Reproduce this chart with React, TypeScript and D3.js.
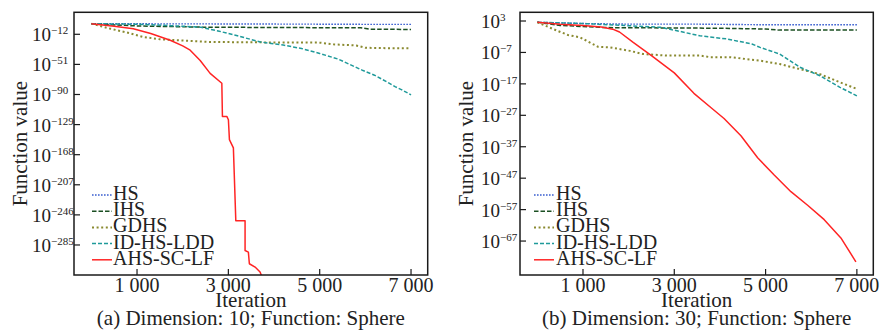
import React from 'react';
import * as d3 from 'd3';

// ---------- data (values stored as log10 of the function value) ----------
const seriesNames = ['HS', 'IHS', 'GDHS', 'ID-HS-LDD', 'AHS-SC-LF'];
const xTicks = [1000, 3000, 5000, 7000];
const xTickLabels = ['1 000', '3 000', '5 000', '7 000'];
const yTicksA = [-12, -51, -90, -129, -168, -207, -246, -285];
const yTicksB = [3, -7, -17, -27, -37, -47, -57, -67];
const captions = ['(a) Dimension: 10; Function: Sphere', '(b) Dimension: 30; Function: Sphere'];

// panel (a): [iteration, log10(value)]
const aHS: [number, number][] = [[0, 1.8], [1000, 1.6], [3000, 1.4], [5000, 1.1], [6000, 0.9], [7000, 0.9]];
const aIHS: [number, number][] = [[0, 1.8], [300, 0.8], [1000, -1.2], [2500, -2.8], [4000, -3.2], [5000, -3.4], [5900, -3.6], [6100, -5.4], [7000, -5.7]];
const aGDHS: [number, number][] = [[0, 1.8], [415, -4.7], [800, -10], [1137, -15.5], [1500, -18.5], [1880, -19.7], [2600, -21.9], [3500, -22.4], [5000, -22.8], [5300, -25], [5800, -26.5], [6000, -29.5], [6500, -30], [7000, -30]];
const aIDHS: [number, number][] = [[0, 1.8], [1000, 1.0], [2000, -1.5], [2400, -3], [2800, -8], [3200, -14], [3700, -21.9], [4200, -26], [4600, -30.4], [5000, -36.8], [5400, -44], [5950, -59], [6200, -65], [6470, -73.6], [6650, -79.8], [6800, -84], [7000, -90.5]];
const aAHS: [number, number][] = [[0, 1.8], [500, -1.5], [918, -4.7], [1300, -11], [1727, -19.7], [2000, -27], [2164, -32.6], [2383, -46], [2601, -62.6], [2857, -75.4], [2870, -118.4], [2966, -118.4], [3001, -122.7], [3023, -148.4], [3110, -159.1], [3163, -253.6], [3366, -253.6], [3366, -292.2], [3438, -294.2], [3460, -309.3], [3585, -313.6], [3694, -320], [3760, -330]];

// panel (b)
const bHS: [number, number][] = [[0, 2.6], [1000, 2.2], [2000, 2.0], [3500, 2.0], [5000, 1.8], [7000, 1.8]];
const bIHS: [number, number][] = [[0, 2.6], [500, 1.6], [1500, 0.9], [4000, 0.7], [5000, 0.45], [5300, 0.1], [7000, 0.1]];
const bGDHS: [number, number][] = [[0, 2.6], [344, 0.45], [672, -1.45], [935, -2.2], [1329, -5.2], [1592, -5.4], [2030, -6.5], [2314, -7.5], [2840, -8], [3563, -8], [3782, -8.5], [4220, -8.5], [4876, -9.6], [5314, -10.7], [5752, -12.3], [6190, -13.9], [6628, -16.5], [7000, -18.6]];
const bIDHS: [number, number][] = [[0, 2.6], [1000, 2.2], [2000, 1.5], [2700, 1.0], [3060, -0.1], [3560, -1.7], [4150, -2.7], [4700, -4.3], [4880, -5.4], [5310, -7.5], [5750, -11.7], [6190, -14.4], [6630, -18.1], [7000, -20.8]];
const bAHS: [number, number][] = [[0, 2.6], [500, 2.0], [1000, 1.6], [1400, 1.1], [1650, 0.4], [1800, -0.5], [2100, -3.8], [2500, -8], [3000, -13.5], [3430, -20], [3800, -24.5], [4090, -28], [4460, -33.5], [4826, -40.5], [5189, -46], [5555, -51.3], [5921, -55.6], [6285, -60.2], [6650, -66], [6979, -73.6]];

// ---------- styles ----------
const colors = ['#3a5fd0', '#1b4f22', '#8a8a30', '#1f9a9a', '#ff2424'];
const dashes = ['1.6,1.4', '4.5,2', '2,2.6', '4,2', null];
const widths = [1.4, 1.5, 2, 1.5, 1.5];
const FONT = '"Liberation Serif", "Times New Roman", serif';

type PanelCfg = {
  left: number; right: number; top: number; bottom: number;
  xDomain: [number, number]; yDomain: [number, number];
  yTicks: number[]; series: [number, number][][]; caption: string;
  labelX: number; titleX: number; legHandleX: number; legTextX: number;
};

const panels: PanelCfg[] = [
  {
    left: 74, right: 427.7, top: 12.3, bottom: 275,
    xDomain: [-380, 7365], yDomain: [-323.9, 16.5],
    yTicks: yTicksA, series: [aHS, aIHS, aGDHS, aIDHS, aAHS], caption: captions[0],
    labelX: 32, titleX: 27, legHandleX: 92, legTextX: 113,
  },
  {
    left: 520, right: 873.3, top: 12.3, bottom: 275,
    xDomain: [-380, 7360], yDomain: [-77.8, 5.77],
    yTicks: yTicksB, series: [bHS, bIHS, bGDHS, bIDHS, bAHS], caption: captions[1],
    labelX: 481, titleX: 473, legHandleX: 534, legTextX: 556,
  },
];

function Panel({ cfg, idx }: { cfg: PanelCfg; idx: number }) {
  const x = d3.scaleLinear().domain(cfg.xDomain).range([cfg.left, cfg.right]);
  const y = d3.scaleLinear().domain(cfg.yDomain).range([cfg.bottom, cfg.top]);
  const line = d3.line<[number, number]>().x(d => x(d[0])).y(d => y(d[1]));
  const clipId = `clip${idx}`;
  const cx = (cfg.left + cfg.right) / 2;
  const cy = (cfg.top + cfg.bottom) / 2;
  const legY0 = 195;
  const legStep = 16.2;
  return (
    <g>
      <defs>
        <clipPath id={clipId}>
          <rect x={cfg.left} y={cfg.top} width={cfg.right - cfg.left} height={cfg.bottom - cfg.top} />
        </clipPath>
      </defs>
      <g clipPath={`url(#${clipId})`}>
        {cfg.series.map((s, i) => (
          <path key={i} d={line(s) || ''} fill="none" stroke={colors[i]} strokeWidth={widths[i]}
            strokeDasharray={dashes[i] || undefined} strokeLinejoin="round" />
        ))}
      </g>
      <rect x={cfg.left} y={cfg.top} width={cfg.right - cfg.left} height={cfg.bottom - cfg.top}
        fill="none" stroke="#1a1a1a" strokeWidth={1.5} />
      {xTicks.map((t, i) => (
        <g key={t}>
          <line x1={x(t)} x2={x(t)} y1={cfg.bottom} y2={cfg.bottom - 6} stroke="#1a1a1a" strokeWidth={1.2} />
          <text x={x(t)} y={cfg.bottom + 17} textAnchor="middle" fontSize={20} fontFamily={FONT} fill="#222">{xTickLabels[i]}</text>
        </g>
      ))}
      {cfg.yTicks.map(t => (
        <g key={t}>
          <line x1={cfg.left} x2={cfg.left + 6} y1={y(t)} y2={y(t)} stroke="#1a1a1a" strokeWidth={1.2} />
          <text x={cfg.labelX} y={y(t) + 7} fontFamily={FONT} fill="#222">
            <tspan fontSize={19}>10</tspan>
            <tspan fontSize={11} dy={-7}>{t < 0 ? `\u2212${-t}` : `${t}`}</tspan>
          </text>
        </g>
      ))}
      <text x={cx} y={cfg.bottom + 32} textAnchor="middle" fontSize={21} fontFamily={FONT} fill="#222">Iteration</text>
      <text x={cx} y={cfg.bottom + 50} textAnchor="middle" fontSize={21} fontFamily={FONT} fill="#222">{cfg.caption}</text>
      <text transform={`translate(${cfg.titleX},${cy}) rotate(-90)`} textAnchor="middle" fontSize={21} fontFamily={FONT} fill="#222">Function value</text>
      {seriesNames.map((n, i) => (
        <g key={n}>
          <line x1={cfg.legHandleX} x2={cfg.legHandleX + 20} y1={legY0 + i * legStep} y2={legY0 + i * legStep}
            stroke={colors[i]} strokeWidth={widths[i]} strokeDasharray={dashes[i] || undefined} />
          <text x={cfg.legTextX} y={legY0 + i * legStep + 5} fontSize={20} fontFamily={FONT} fill="#222">{n}</text>
        </g>
      ))}
    </g>
  );
}

export default function App() {
  return (
    <svg width={882} height={331} style={{ position: 'absolute', left: 0, top: 0, background: '#fff' }}>
      <rect x={0} y={0} width={882} height={331} fill="#fff" />
      {panels.map((p, i) => <Panel key={i} cfg={p} idx={i} />)}
    </svg>
  );
}
